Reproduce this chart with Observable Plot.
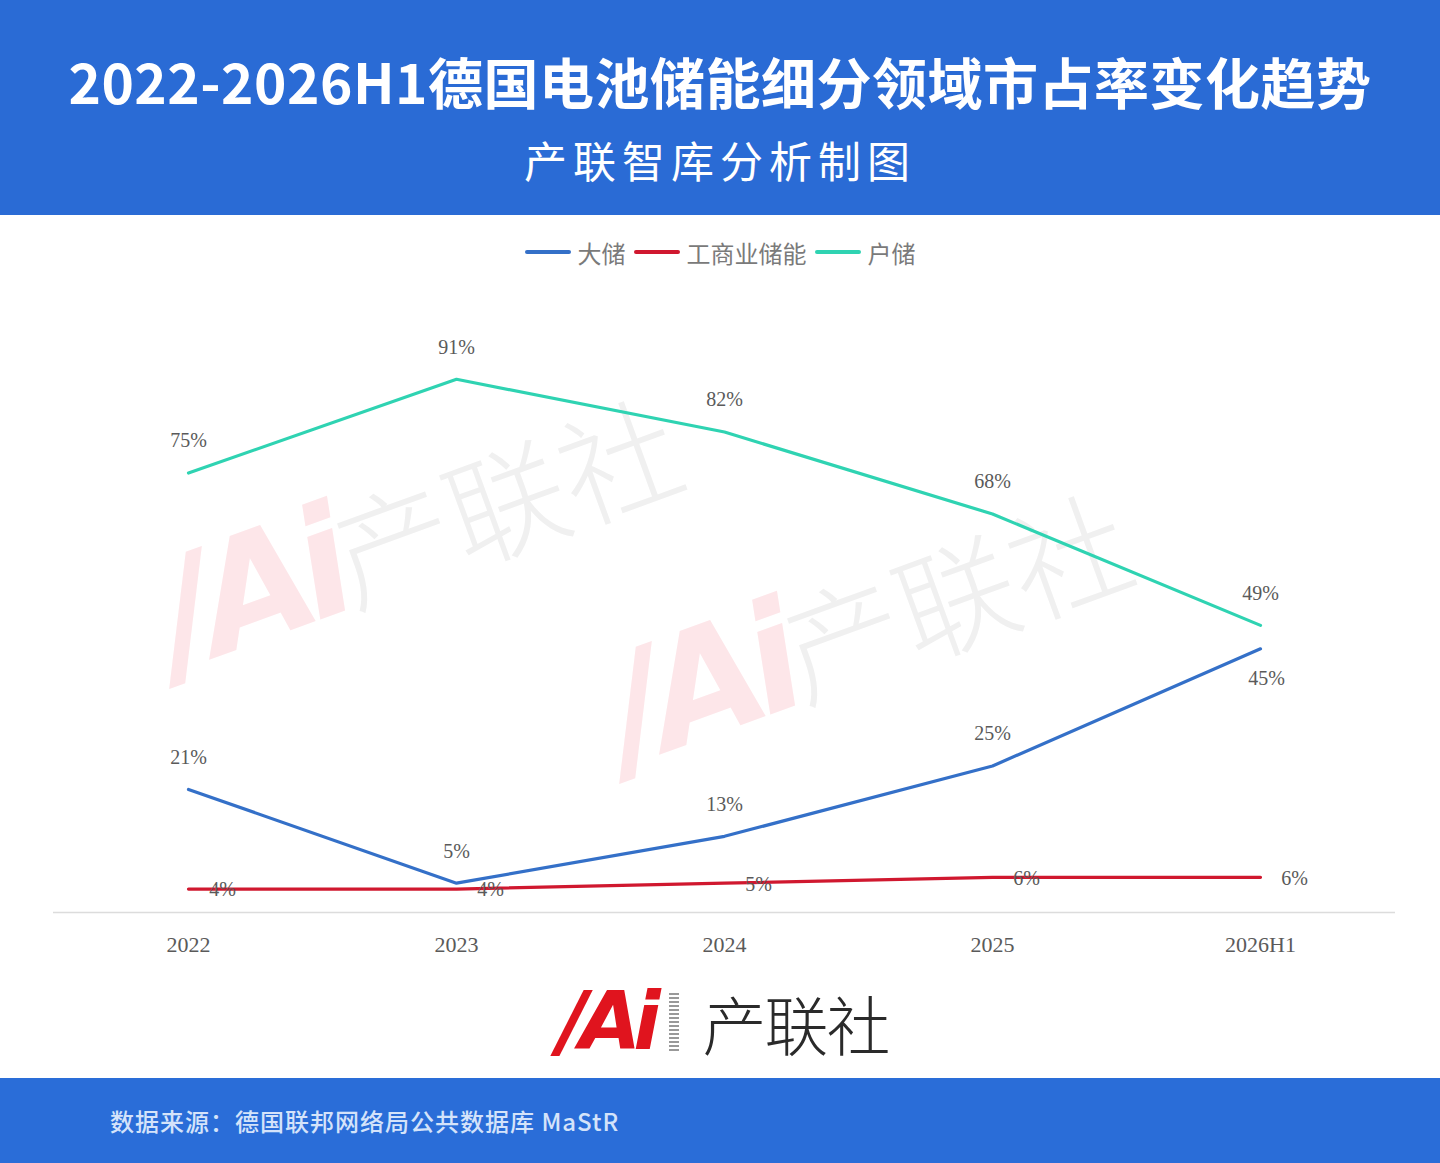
<!DOCTYPE html>
<html><head><meta charset="utf-8">
<script src="https://cdn.jsdelivr.net/npm/d3@7"></script>
<script src="https://cdn.jsdelivr.net/npm/@observablehq/plot@0.6"></script>
<style>
body{margin:0;width:1440px;height:1163px;position:relative;background:#fff;overflow:hidden;font-family:"Noto Sans CJK SC",sans-serif}
#header{position:absolute;left:0;top:0;width:1440px;height:215px;background:#2a6bd5}
#title{position:absolute;top:40px;left:0;width:100%;text-align:center;color:#fff;font-size:55px;font-weight:700;line-height:80px;letter-spacing:0.5px}
#subtitle{position:absolute;top:126px;left:0;width:100%;text-align:center;color:#fff;font-size:43px;font-weight:400;line-height:66px;letter-spacing:6px}
#legend{position:absolute;top:235px;left:0;width:1440px;height:34px;display:flex;justify-content:center;align-items:center;font-size:24px;color:#7a7a7a;font-family:"Noto Sans CJK SC",serif}
#legend .item{display:flex;align-items:center;margin:0 4px}
#legend .sw{width:46px;height:4px;margin-right:7px;border-radius:2px}
#chart{position:absolute;top:280px;left:0;width:1440px;height:700px;z-index:2}
.wm{position:absolute;transform:rotate(-20deg);transform-origin:left bottom;white-space:nowrap;z-index:1}
.wm .ai{font-family:"DejaVu Sans",sans-serif;font-weight:900;font-style:italic;color:#fde6e9;font-size:150px;letter-spacing:-12px}
.wm .cn{font-family:"Noto Sans CJK SC";font-weight:300;color:#f0f0f0;font-size:120px}
#logo{position:absolute;top:982px;left:558px;height:80px;display:flex;align-items:center}
#logo .ai{font-family:"DejaVu Sans",sans-serif;font-weight:900;font-style:italic;color:#e0141e;font-size:80px;letter-spacing:-8px;line-height:80px}
#logo .bars{width:10px;height:58px;margin:0 24px 0 16px;background:repeating-linear-gradient(#999 0 2px,#fff 2px 4px)}
#logo .cn{font-family:"Noto Sans CJK SC";font-weight:300;color:#2a2a2a;font-size:64px;line-height:80px;letter-spacing:-2px}
#footer{position:absolute;left:0;top:1078px;width:1440px;height:85px;background:#2a6dd8}
#source{position:absolute;left:110px;top:26px;color:#d4e3fa;font-size:24px;font-weight:500;line-height:34px;letter-spacing:1px}
</style></head>
<body>
<div id="header"><div id="title">2022-2026H1德国电池储能细分领域市占率变化趋势</div><div id="subtitle">产联智库分析制图</div></div>
<div id="legend"></div>
<div class="wm" style="left:190px;top:530px"><span class="ai">/Ai</span><span class="cn">产联社</span></div>
<div class="wm" style="left:640px;top:625px"><span class="ai">/Ai</span><span class="cn">产联社</span></div>
<div id="chart"></div>
<div id="logo"><span class="ai">/Ai</span><span class="bars"></span><span class="cn">产联社</span></div>
<div id="footer"><div id="source">数据来源：德国联邦网络局公共数据库 MaStR</div></div>
<script>
const years = ["2022", "2023", "2024", "2025", "2026H1"];
const seriesNames = ["大储", "工商业储能", "户储"];
const daChu = [21, 5, 13, 25, 45];
const gongShangYe = [4, 4, 5, 6, 6];
const huChu = [75, 91, 82, 68, 49];
const colors = ["#3470c8", "#d0182f", "#2fd3b2"];

const seriesValues = [daChu, gongShangYe, huChu];
const rows = [];
seriesNames.forEach((s, i) => years.forEach((y, j) => rows.push({series: s, year: y, value: seriesValues[i][j], idx: j})));

// legend
const lg = document.getElementById("legend");
seriesNames.forEach((s, i) => {
  const it = document.createElement("div"); it.className = "item";
  it.innerHTML = `<span class="sw" style="background:${colors[i]}"></span><span>${s}</span>`;
  lg.appendChild(it);
});

const fmt = d => d.value + "%";
const labelFont = {fontSize: 20, fill: "#5a5a5a", fontFamily: "Liberation Serif, DejaVu Serif, serif"};
const last = years.length - 1;

const chart = Plot.plot({
  width: 1440,
  height: 700,
  marginLeft: 53,
  marginRight: 45,
  marginTop: 46,
  marginBottom: 68,
  style: {fontFamily: "Liberation Serif, DejaVu Serif, serif", fontSize: "22px", color: "#5a5a5a", background: "transparent"},
  x: {type: "point", domain: years, padding: 0.5, label: null},
  y: {domain: [0, 100], axis: null},
  color: {domain: seriesNames, range: colors},
  marks: [
    Plot.ruleY([0], {stroke: "#dcdcdc", strokeWidth: 1.5}),
    Plot.axisX({tickSize: 0, tickPadding: 24, fontSize: 22, fill: "#5a5a5a", label: null}),
    Plot.line(rows, {x: "year", y: "value", z: "series", stroke: "series", strokeWidth: 3.2, curve: "linear"}),
    Plot.text(rows.filter(d => d.series === "户储"), {x: "year", y: "value", text: fmt, dy: -32, ...labelFont}),
    Plot.text(rows.filter(d => d.series === "大储" && d.idx < last), {x: "year", y: "value", text: fmt, dy: -32, ...labelFont}),
    Plot.text(rows.filter(d => d.series === "大储" && d.idx === last), {x: "year", y: "value", text: fmt, dy: 30, dx: 6, ...labelFont}),
    Plot.text(rows.filter(d => d.series === "工商业储能"), {x: "year", y: "value", text: fmt, dx: 34, dy: 1, ...labelFont})
  ]
});
document.getElementById("chart").appendChild(chart);
</script>
</body></html>
